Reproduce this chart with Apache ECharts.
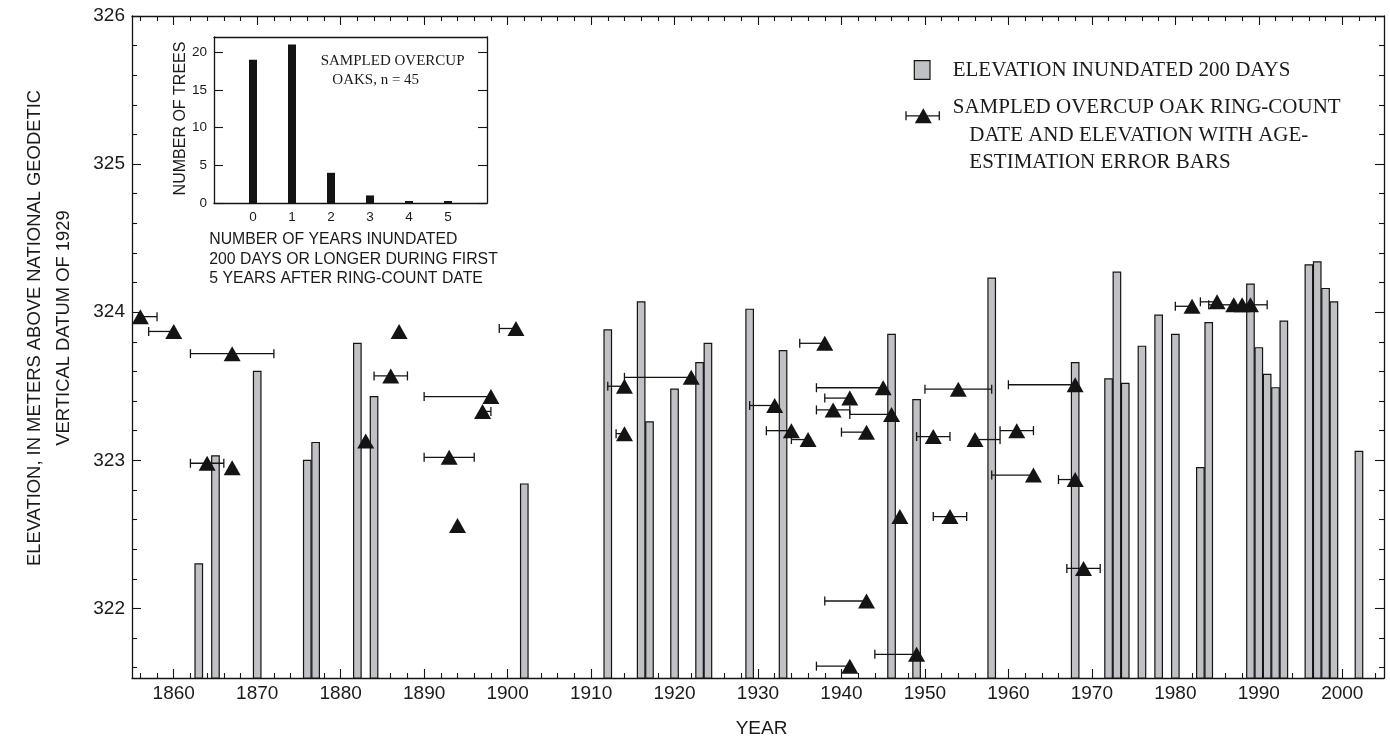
<!DOCTYPE html>
<html>
<head>
<meta charset="utf-8">
<script src="https://cdn.jsdelivr.net/npm/echarts@6/dist/echarts.min.js"></script>
<style>
  html, body { margin: 0; padding: 0; background: #ffffff; }
  #chart { width: 1390px; height: 740px; }
</style>
</head>
<body>
<div id="chart"></div>
<script>
// ---- Axis ticks ----
const yearTicks = [1860, 1870, 1880, 1890, 1900, 1910, 1920, 1930, 1940, 1950, 1960, 1970, 1980, 1990, 2000];
const elevTicks = [322, 323, 324, 325, 326];
const treeTicks = [0, 5, 10, 15, 20];
const inundTicks = [0, 1, 2, 3, 4, 5];

// ---- Years in which the 200-day inundation elevation was reached ----
const floodYears = [1863, 1865, 1870, 1876, 1877, 1882, 1884, 1902, 1912, 1916, 1917, 1920, 1923, 1924,
  1929, 1933, 1946, 1949, 1958, 1968, 1972, 1973, 1974, 1976, 1978, 1980, 1983, 1984, 1989, 1990,
  1991, 1992, 1993, 1996, 1997, 1998, 1999, 2002];
const floodElev = [322.30, 323.03, 323.60, 323.00, 323.12, 323.79, 323.43, 322.84, 323.88, 324.07, 323.26, 323.48, 323.66, 323.79,
  324.02, 323.74, 323.85, 323.41, 324.23, 323.66, 323.55, 324.27, 323.52, 323.77, 323.98, 323.85, 322.95, 323.93, 324.19, 323.76,
  323.58, 323.49, 323.94, 324.32, 324.34, 324.16, 324.07, 323.06];

// ---- Sampled overcup oaks: ring-count date, elevation, age-estimation range ----
const oakYear  = [1856, 1860, 1867, 1864, 1867, 1883, 1886, 1887, 1893, 1894, 1897, 1898, 1901,
  1914, 1914, 1922, 1932, 1934, 1936, 1938, 1939, 1941, 1943, 1945, 1946, 1947, 1943, 1941, 1949,
  1951, 1953, 1954, 1956, 1961, 1963, 1968, 1968, 1969, 1982, 1985, 1987, 1988, 1989];
const oakElev  = [323.97, 323.87, 323.72, 322.98, 322.95, 323.13, 323.57, 323.87, 323.02, 322.56, 323.33, 323.43, 323.89,
  323.50, 323.18, 323.56, 323.37, 323.20, 323.14, 323.79, 323.34, 323.42, 323.19, 323.49, 323.31, 322.62, 322.05, 321.61, 321.69,
  323.16, 322.62, 323.48, 323.14, 323.20, 322.90, 323.51, 322.87, 322.27, 324.04, 324.07, 324.05, 324.05, 324.05];
const oakErrLo = [1856, 1857, 1862, 1862, 1867, 1883, 1884, 1887, 1890, 1894, 1897, 1890, 1899,
  1912, 1913, 1914, 1929, 1931, 1934, 1935, 1937, 1938, 1940, 1937, 1941, 1947, 1938, 1937, 1944,
  1949, 1951, 1950, 1956, 1959, 1958, 1960, 1966, 1967, 1980, 1983, 1984, 1988, 1989];
const oakErrHi = [1858, 1860, 1872, 1866, 1867, 1883, 1888, 1887, 1896, 1894, 1898, 1898, 1901,
  1914, 1914, 1922, 1932, 1934, 1936, 1938, 1941, 1941, 1943, 1945, 1946, 1947, 1943, 1941, 1949,
  1953, 1955, 1958, 1959, 1963, 1963, 1968, 1968, 1971, 1982, 1985, 1987, 1988, 1991];

// ---- Inset histogram ----
const inundatedYears = [0, 1, 2, 3, 4, 5];
const treeCounts = [19, 21, 4, 1, 0, 0];

const YEAR_MIN = 1855, YEAR_MAX = 2005;
const ELEV_MIN = 321.53, ELEV_MAX = 326;

// minor tick positions: every 2 years, every 0.2 m
const yearMinor = [];
for (let y = YEAR_MIN + 1; y < YEAR_MAX; y += 2) if (y % 10 !== 0) yearMinor.push(y);
const elevMinor = [];
for (let k = 3216; k < 3260; k += 2) if (k % 10 !== 0) elevMinor.push(k / 10);

const INK = '#141414';
const BAR_FILL = '#c0c1c5';
const SANS = '"Liberation Sans", Arial, Helvetica, sans-serif';
const SERIF = '"Liberation Serif", "Times New Roman", serif';

function frameAxis(o) {
  return {
    type: 'value',
    gridIndex: o.grid || 0,
    position: o.position,
    min: o.min, max: o.max,
    axisLine: { show: !!o.line, onZero: false, lineStyle: { color: INK, width: 1.3 } },
    axisTick: o.ticks ? { show: true, inside: true, length: o.len, customValues: o.ticks,
      lineStyle: { color: INK, width: 1.1 } } : { show: false },
    axisLabel: o.labels ? { show: true, customValues: o.labels, fontSize: o.fontSize, color: '#1a1a1a',
      fontFamily: SANS, margin: o.margin, formatter: (v) => String(v) } : { show: false },
    splitLine: { show: false },
    minorTick: { show: false },
    silent: true
  };
}

const chart = echarts.init(document.getElementById('chart'), null, { renderer: 'canvas' });

const option = {
  backgroundColor: '#ffffff',
  animation: false,
  grid: [
    { left: 132, top: 16, width: 1252, height: 662, outerBoundsMode: 'none', containLabel: false },
    { left: 214, top: 37, width: 273, height: 166, outerBoundsMode: 'none', containLabel: false }
  ],
  xAxis: [
    frameAxis({ position: 'bottom', min: YEAR_MIN, max: YEAR_MAX, line: true, ticks: yearTicks, len: 9, labels: yearTicks, fontSize: 19, margin: 6 }),
    frameAxis({ position: 'bottom', min: YEAR_MIN, max: YEAR_MAX, ticks: yearMinor, len: 5 }),
    frameAxis({ position: 'top', min: YEAR_MIN, max: YEAR_MAX, line: true, ticks: yearTicks, len: 9 }),
    frameAxis({ position: 'top', min: YEAR_MIN, max: YEAR_MAX, ticks: yearMinor, len: 5 }),
    frameAxis({ grid: 1, position: 'bottom', min: -1, max: 6, line: true, labels: inundTicks, fontSize: 13.5, margin: 7 }),
    frameAxis({ grid: 1, position: 'top', min: -1, max: 6, line: true })
  ],
  yAxis: [
    frameAxis({ position: 'left', min: ELEV_MIN, max: ELEV_MAX, line: true, ticks: elevTicks, len: 9, labels: elevTicks, fontSize: 19, margin: 7 }),
    frameAxis({ position: 'left', min: ELEV_MIN, max: ELEV_MAX, ticks: elevMinor, len: 5 }),
    frameAxis({ position: 'right', min: ELEV_MIN, max: ELEV_MAX, line: true, ticks: elevTicks, len: 9 }),
    frameAxis({ position: 'right', min: ELEV_MIN, max: ELEV_MAX, ticks: elevMinor, len: 5 }),
    frameAxis({ grid: 1, position: 'left', min: 0, max: 22, line: true, ticks: treeTicks, len: 9, labels: treeTicks, fontSize: 13.5, margin: 7 }),
    frameAxis({ grid: 1, position: 'right', min: 0, max: 22, line: true, ticks: treeTicks, len: 9 })
  ],
  series: [
    {
      // elevation inundated 200 days
      type: 'custom',
      xAxisIndex: 0, yAxisIndex: 0,
      data: floodYears.map((y, i) => [y, floodElev[i]]),
      encode: { x: 0, y: 1 },
      z: 2,
      renderItem(params, api) {
        const top = api.coord([api.value(0), api.value(1)]);
        const base = api.coord([api.value(0), ELEV_MIN]);
        const w = api.size([0.9, 0])[0];
        return {
          type: 'rect',
          shape: { x: top[0] - w / 2, y: top[1], width: w, height: base[1] - top[1] },
          style: { fill: BAR_FILL, stroke: INK, lineWidth: 1.2 }
        };
      }
    },
    {
      // age-estimation error bars
      type: 'custom',
      xAxisIndex: 0, yAxisIndex: 0,
      data: oakYear.map((y, i) => [y, oakElev[i], oakErrLo[i], oakErrHi[i]]),
      encode: { x: 0, y: 1 },
      z: 3,
      renderItem(params, api) {
        const yr = api.value(0), el = api.value(1), lo = api.value(2), hi = api.value(3);
        const pLo = api.coord([lo, el]), pHi = api.coord([hi, el]);
        const children = [];
        const st = { stroke: INK, lineWidth: 1.3 };
        if (lo !== hi) {
          children.push({ type: 'line', shape: { x1: pLo[0], y1: pLo[1], x2: pHi[0], y2: pHi[1] }, style: st });
        }
        if (lo !== yr) children.push({ type: 'line', shape: { x1: pLo[0], y1: pLo[1] - 4.5, x2: pLo[0], y2: pLo[1] + 4.5 }, style: st });
        if (hi !== yr) children.push({ type: 'line', shape: { x1: pHi[0], y1: pHi[1] - 4.5, x2: pHi[0], y2: pHi[1] + 4.5 }, style: st });
        return { type: 'group', children };
      }
    },
    {
      // ring-count date and elevation
      type: 'scatter',
      xAxisIndex: 0, yAxisIndex: 0,
      data: oakYear.map((y, i) => [y, oakElev[i]]),
      symbol: 'triangle',
      symbolSize: [17, 15],
      itemStyle: { color: INK, opacity: 1 },
      z: 4,
      silent: true
    },
    {
      // inset: number of trees by years inundated
      type: 'custom',
      xAxisIndex: 4, yAxisIndex: 4,
      data: inundatedYears.map((k, i) => [k, treeCounts[i]]),
      encode: { x: 0, y: 1 },
      z: 3,
      renderItem(params, api) {
        const top = api.coord([api.value(0), api.value(1)]);
        const base = api.coord([api.value(0), 0]);
        const w = 8;
        const h = Math.max(base[1] - top[1], 2);
        return {
          type: 'rect',
          shape: { x: top[0] - w / 2, y: base[1] - h, width: w, height: h },
          style: { fill: INK }
        };
      }
    }
  ],
  graphic: [
    // axis titles
    { type: 'text', x: 761.5, y: 729, style: { text: 'YEAR', font: '19px ' + SANS, fill: '#1a1a1a', textAlign: 'center', textVerticalAlign: 'middle' } },
    { type: 'text', x: 34.5, y: 328, rotation: Math.PI / 2, style: { text: 'ELEVATION, IN METERS ABOVE NATIONAL GEODETIC', font: '18.4px ' + SANS, fill: '#1a1a1a', textAlign: 'center', textVerticalAlign: 'middle' } },
    { type: 'text', x: 63.5, y: 328, rotation: Math.PI / 2, style: { text: 'VERTICAL DATUM OF 1929', font: '18.4px ' + SANS, fill: '#1a1a1a', textAlign: 'center', textVerticalAlign: 'middle' } },

    // legend
    { type: 'rect', shape: { x: 914.3, y: 60.7, width: 15.7, height: 18.6 }, style: { fill: BAR_FILL, stroke: INK, lineWidth: 1.2 } },
    { type: 'line', shape: { x1: 906, y1: 115.8, x2: 939.3, y2: 115.8 }, style: { stroke: INK, lineWidth: 1.3 } },
    { type: 'line', shape: { x1: 906, y1: 111.3, x2: 906, y2: 120.3 }, style: { stroke: INK, lineWidth: 1.3 } },
    { type: 'line', shape: { x1: 939.3, y1: 111.3, x2: 939.3, y2: 120.3 }, style: { stroke: INK, lineWidth: 1.3 } },
    { type: 'polygon', shape: { points: [[923.3, 108.3], [931.8, 123.3], [914.8, 123.3]] }, style: { fill: INK } },
    { type: 'text', x: 952.7, y: 70.3, style: { text: 'ELEVATION INUNDATED 200 DAYS', font: '21px ' + SERIF, fill: '#1a1a1a', textVerticalAlign: 'middle' } },
    { type: 'text', x: 952.7, y: 107.5, style: { text: 'SAMPLED OVERCUP OAK RING-COUNT', font: '21px ' + SERIF, fill: '#1a1a1a', textVerticalAlign: 'middle' } },
    { type: 'text', x: 969.3, y: 135.2, style: { text: 'DATE AND ELEVATION WITH AGE-', font: '21px ' + SERIF, fill: '#1a1a1a', textVerticalAlign: 'middle' } },
    { type: 'text', x: 969.3, y: 162.5, style: { text: 'ESTIMATION ERROR BARS', font: '21px ' + SERIF, fill: '#1a1a1a', textVerticalAlign: 'middle' } },

    // inset labels
    { type: 'text', x: 180.7, y: 118.5, rotation: Math.PI / 2, style: { text: 'NUMBER OF TREES', font: '16px ' + SANS, fill: '#1a1a1a', textAlign: 'center', textVerticalAlign: 'middle' } },
    { type: 'text', x: 320.7, y: 61.5, style: { text: 'SAMPLED OVERCUP', font: '15px ' + SERIF, fill: '#1a1a1a', textVerticalAlign: 'middle' } },
    { type: 'text', x: 332.3, y: 80.5, style: { text: 'OAKS, n = 45', font: '15px ' + SERIF, fill: '#1a1a1a', textVerticalAlign: 'middle' } },
    { type: 'text', x: 209.3, y: 240, style: { text: 'NUMBER OF YEARS INUNDATED', font: '15.8px ' + SANS, fill: '#1a1a1a', textVerticalAlign: 'middle' } },
    { type: 'text', x: 209.3, y: 259.3, style: { text: '200 DAYS OR LONGER DURING FIRST', font: '15.8px ' + SANS, fill: '#1a1a1a', textVerticalAlign: 'middle' } },
    { type: 'text', x: 209.3, y: 278.5, style: { text: '5 YEARS AFTER RING-COUNT DATE', font: '15.8px ' + SANS, fill: '#1a1a1a', textVerticalAlign: 'middle' } }
  ]
};

chart.setOption(option);
</script>
</body>
</html>
